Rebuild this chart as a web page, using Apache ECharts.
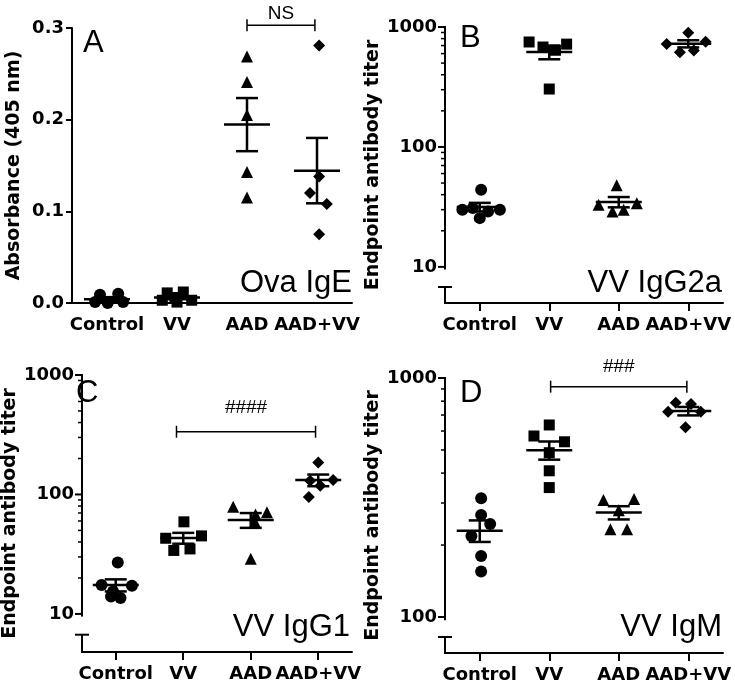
<!DOCTYPE html>
<html><head><meta charset="utf-8">
<script src="https://cdn.jsdelivr.net/npm/echarts@6/dist/echarts.min.js"></script>
<style>html,body{margin:0;padding:0;background:#fff}#c{width:735px;height:688px}</style>
</head><body><div id="c"></div>
<script>
// ---------- data ----------
const categories = ['Control', 'VV', 'AAD', 'AAD+VV'];

// Panel A: Ova IgE, absorbance (405 nm)
const aControl = [0.009, 0.010, 0.001, 0.000, 0.001];
const aVV      = [0.011, 0.012, 0.006, 0.003, 0.003, 0.001];
const aAAD     = [0.269, 0.241, 0.205, 0.143, 0.115];
const aAADVV   = [0.281, 0.138, 0.120, 0.108, 0.075];
const aJitter  = [[-0.10, 0.16, -0.17, 0.01, 0.23], [-0.14, 0.09, -0.03, 0.21, -0.21, 0.0], [0, 0, 0, 0, 0], [0.03, 0.03, -0.10, 0.14, 0.03]];
const aTicks   = [0, 0.1, 0.2, 0.3];

// Panel B: VV IgG2a endpoint titer
const bControl = [44, 30, 31, 29, 30, 25.5];
const bVV      = [750, 681, 640, 720, 304];
const bAAD     = [48, 33, 34, 29, 30];
const bAADVV   = [897, 722, 754, 617, 638];
const bJitter  = [[0.02, -0.25, -0.10, 0.12, 0.29, 0.0], [-0.29, -0.09, 0.09, 0.25, 0], [-0.03, -0.29, 0.26, -0.09, 0.07], [0, -0.31, 0.25, -0.12, 0.08]];
const bTicks   = [10, 100, 1000];

// Panel C: VV IgG1 endpoint titer
const cControl = [27, 17.5, 15.4, 13.6, 17.2, 14];
const cVV      = [59, 43, 45, 34, 35];
const cAAD     = [79, 68, 71, 59, 29];
const cAADVV   = [185, 132, 118, 95, 130];
const cJitter  = [[0.03, -0.21, -0.04, 0.07, 0.24, -0.07], [0.01, -0.26, 0.27, -0.14, 0.10], [-0.26, 0.07, 0.24, 0.06, 0.0], [0, 0.22, 0.03, -0.14, -0.12]];
const cTicks   = [10, 100, 1000];

// Panel D: VV IgM endpoint titer
const dControl = [314, 267, 245, 218, 180, 155];
const dVV      = [636, 572, 541, 487, 409, 348];
const dAAD     = [309, 312, 280, 233, 233];
const dAADVV   = [788, 779, 723, 723, 622];
const dJitter  = [[0.02, 0.02, 0.15, -0.12, 0.02, 0.02], [0, -0.22, 0.22, 0, 0, 0], [-0.22, 0.22, 0, -0.12, 0.12], [-0.18, 0.04, -0.29, 0.18, -0.04]];
const dTicks   = [100, 1000];

// significance brackets: [fromCategory, toCategory, yValue, labelYValue, text]
const aBracket = [2, 2.97, 0.303, 0.316, 'NS'];
const cBracket = [0.9, 2.96, 335, 530, '####'];
const dBracket = [1.02, 2.98, 920, 1112, '###'];

// ---------- layout / style ----------
const BOLD = 'DejaVu Sans';
const REG = 'Liberation Sans';
const symbols = ['circle', 'rect', 'triangle', 'diamond'];
const symSizes = [12, 11, 12, 12];

function minorTicks(lo, hi) {
  const out = [];
  for (let d = 1; d < 10000; d *= 10) for (let m = 2; m <= 9; m++) {
    const v = m * d; if (v > lo && v < hi) out.push(v);
  }
  return out;
}

const panels = [
  { grid: {left: 72, top: 28, width: 280, height: 275}, log: false, min: 0, max: 0.3, ticks: aTicks,
    groups: [aControl, aVV, aAAD, aAADVV], jit: aJitter, name: 'Absorbance (405 nm)', xTicks: false,
    bracket: aBracket, letter: 'A', letterPos: [83, 43], title: 'Ova IgE', titlePos: [352, 283] },
  { grid: {left: 445, top: 27, width: 278, height: 276}, log: true, min: 5, max: 1000, ticks: bTicks,
    breakHi: 9.5, breakCap: 6.8, minor: minorTicks(10, 1000),
    groups: [bControl, bVV, bAAD, bAADVV], jit: bJitter, name: 'Endpoint antibody titer', xTicks: true,
    bracket: null, letter: 'B', letterPos: [460, 38], title: 'VV IgG2a', titlePos: [722, 283] },
  { grid: {left: 73, top: 375, width: 279, height: 277}, log: true, min: 4.8, max: 1000, ticks: cTicks,
    breakHi: 9.5, breakCap: 6.7, minor: minorTicks(10, 1000),
    groups: [cControl, cVV, cAAD, cAADVV], jit: cJitter, name: 'Endpoint antibody titer', xTicks: true,
    bracket: cBracket, letter: 'C', letterPos: [76, 393], title: 'VV IgG1', titlePos: [350, 627] },
  { grid: {left: 445, top: 378, width: 278, height: 275}, log: true, min: 70.7, max: 1000, ticks: dTicks,
    breakHi: 97, breakCap: 82.5, minor: minorTicks(100, 1000),
    groups: [dControl, dVV, dAAD, dAADVV], jit: dJitter, name: 'Endpoint antibody titer', xTicks: true,
    bracket: dBracket, letter: 'D', letterPos: [460, 393], title: 'VV IgM', titlePos: [722, 627] }
];

function meanSem(a) {
  const n = a.length, m = a.reduce((s, v) => s + v, 0) / n;
  const sd = Math.sqrt(a.reduce((s, v) => s + (v - m) * (v - m), 0) / (n - 1));
  return [m, sd / Math.sqrt(n)];
}

const grid = [], xAxis = [], yAxis = [], series = [], graphic = [];

panels.forEach((p, gi) => {
  grid.push(Object.assign({containLabel: false}, p.grid));
  xAxis.push({
    type: 'category', gridIndex: gi, data: categories, boundaryGap: true,
    axisLine: {show: true, onZero: false, lineStyle: {color: '#000', width: 2}},
    axisTick: {show: p.xTicks, alignWithLabel: true, length: 8, lineStyle: {color: '#000', width: 2}},
    axisLabel: {interval: 0, color: '#000', fontFamily: BOLD, fontWeight: 'bold', fontSize: 18, margin: 13},
    splitLine: {show: false}
  });
  xAxis.push({type: 'value', gridIndex: gi, min: -0.5, max: 3.5, show: false,
    axisLine: {show: false, onZero: false}});
  const tickSet = p.ticks;
  yAxis.push({
    type: p.log ? 'log' : 'value', logBase: 10, gridIndex: gi, min: p.min, max: p.max,
    interval: p.log ? undefined : 0.1,
    name: p.name, nameLocation: 'middle', nameGap: 48,
    nameTextStyle: {color: '#000', fontFamily: BOLD, fontWeight: 'bold', fontSize: 19},
    axisLine: {show: !p.log, onZero: false, lineStyle: {color: '#000', width: 2}},
    axisTick: {show: !p.log, length: 6, lineStyle: {color: '#000', width: 2}},
    axisLabel: {
      show: true, showMinLabel: true, showMaxLabel: true, color: '#000', fontFamily: BOLD, fontWeight: 'bold', fontSize: 18, margin: 8,
      formatter: function (v) {
        if (!p.log) return v.toFixed(1);
        for (const t of tickSet) if (Math.abs(v - t) < t * 1e-6) return String(t);
        return '';
      }
    },
    splitLine: {show: false}, minorTick: {show: false}
  });
  const xi = gi * 2 + 1;
  // points
  p.groups.forEach((vals, i) => {
    series.push({
      type: 'scatter', xAxisIndex: xi, yAxisIndex: gi, symbol: symbols[i], symbolSize: symSizes[i],
      itemStyle: {color: '#000', opacity: 1}, silent: true, z: 2,
      data: vals.map((v, k) => [i + p.jit[i][k], v])
    });
  });
  // mean +/- SEM
  series.push({
    type: 'custom', xAxisIndex: xi, yAxisIndex: gi, silent: true, z: 3,
    data: p.groups.map((vals, i) => { const ms = meanSem(vals); return [i, ms[0], ms[1]]; }),
    encode: {x: 0, y: 1},
    renderItem: function (params, api) {
      const i = api.value(0), m = api.value(1), s = api.value(2);
      const c = api.coord([i, m]);
      const hi = api.coord([i, m + s])[1], lo = api.coord([i, m - s])[1];
      const st = {stroke: '#000', lineWidth: 2.5};
      return {type: 'group', children: [
        {type: 'line', shape: {x1: c[0] - 23, y1: c[1], x2: c[0] + 23, y2: c[1]}, style: st},
        {type: 'line', shape: {x1: c[0], y1: hi, x2: c[0], y2: lo}, style: st},
        {type: 'line', shape: {x1: c[0] - 11, y1: hi, x2: c[0] + 11, y2: hi}, style: st},
        {type: 'line', shape: {x1: c[0] - 11, y1: lo, x2: c[0] + 11, y2: lo}, style: st}
      ]};
    }
  });
  // axis break, log ticks, bracket
  series.push({
    type: 'custom', xAxisIndex: xi, yAxisIndex: gi, silent: true, z: 4, clip: false,
    data: [[0, p.log ? 100 : 0.1]], encode: {x: 0, y: 1},
    renderItem: function (params, api) {
      const cs = params.coordSys, x0 = cs.x, yt = cs.y, yb = cs.y + cs.height;
      const ch = [];
      const L = (x1, y1, x2, y2, w) => ch.push({type: 'line', shape: {x1, y1, x2, y2}, style: {stroke: '#000', lineWidth: w}});
      if (p.log) {
        const yHi = api.coord([0, p.breakHi])[1];
        const yCap = api.coord([0, p.breakCap])[1];
        L(x0, yt - 1, x0, yHi, 2);
        L(x0, yCap, x0, yb + 1, 2);
        L(x0 - 7, yCap, x0 + 7, yCap, 2);
        p.ticks.forEach(t => { const y = api.coord([0, t])[1]; L(x0 - 7, y, x0, y, 2); });
        p.minor.forEach(t => { const y = api.coord([0, t])[1]; L(x0 - 4, y, x0, y, 1.5); });
      }
      const b = p.bracket;
      if (b) {
        const y = api.coord([0, b[2]])[1];
        const xa = api.coord([b[0], b[2]])[0], xb = api.coord([b[1], b[2]])[0];
        L(xa, y, xb, y, 1.5); L(xa, y - 6, xa, y + 6, 1.5); L(xb, y - 6, xb, y + 6, 1.5);
        ch.push({type: 'text', style: {x: (xa + xb) / 2, y: api.coord([0, b[3]])[1], text: b[4],
          font: '19px "' + REG + '"', fill: '#000', align: 'center', verticalAlign: 'middle',
          textAlign: 'center', textVerticalAlign: 'middle'}});
      }
      return {type: 'group', children: ch};
    }
  });
  graphic.push({type: 'text', z: 10, style: {x: p.letterPos[0], y: p.letterPos[1], text: p.letter,
    font: '31px "' + REG + '"', fill: '#000', align: 'left', verticalAlign: 'middle', textAlign: 'left', textVerticalAlign: 'middle'}});
  graphic.push({type: 'text', z: 10, style: {x: p.titlePos[0], y: p.titlePos[1], text: p.title,
    font: '31px "' + REG + '"', fill: '#000', align: 'right', verticalAlign: 'middle', textAlign: 'right', textVerticalAlign: 'middle'}});
});

const chart = echarts.init(document.getElementById('c'), null, {renderer: 'canvas'});
chart.setOption({backgroundColor: '#fff', animation: false, grid, xAxis, yAxis, series, graphic});
</script></body></html>
